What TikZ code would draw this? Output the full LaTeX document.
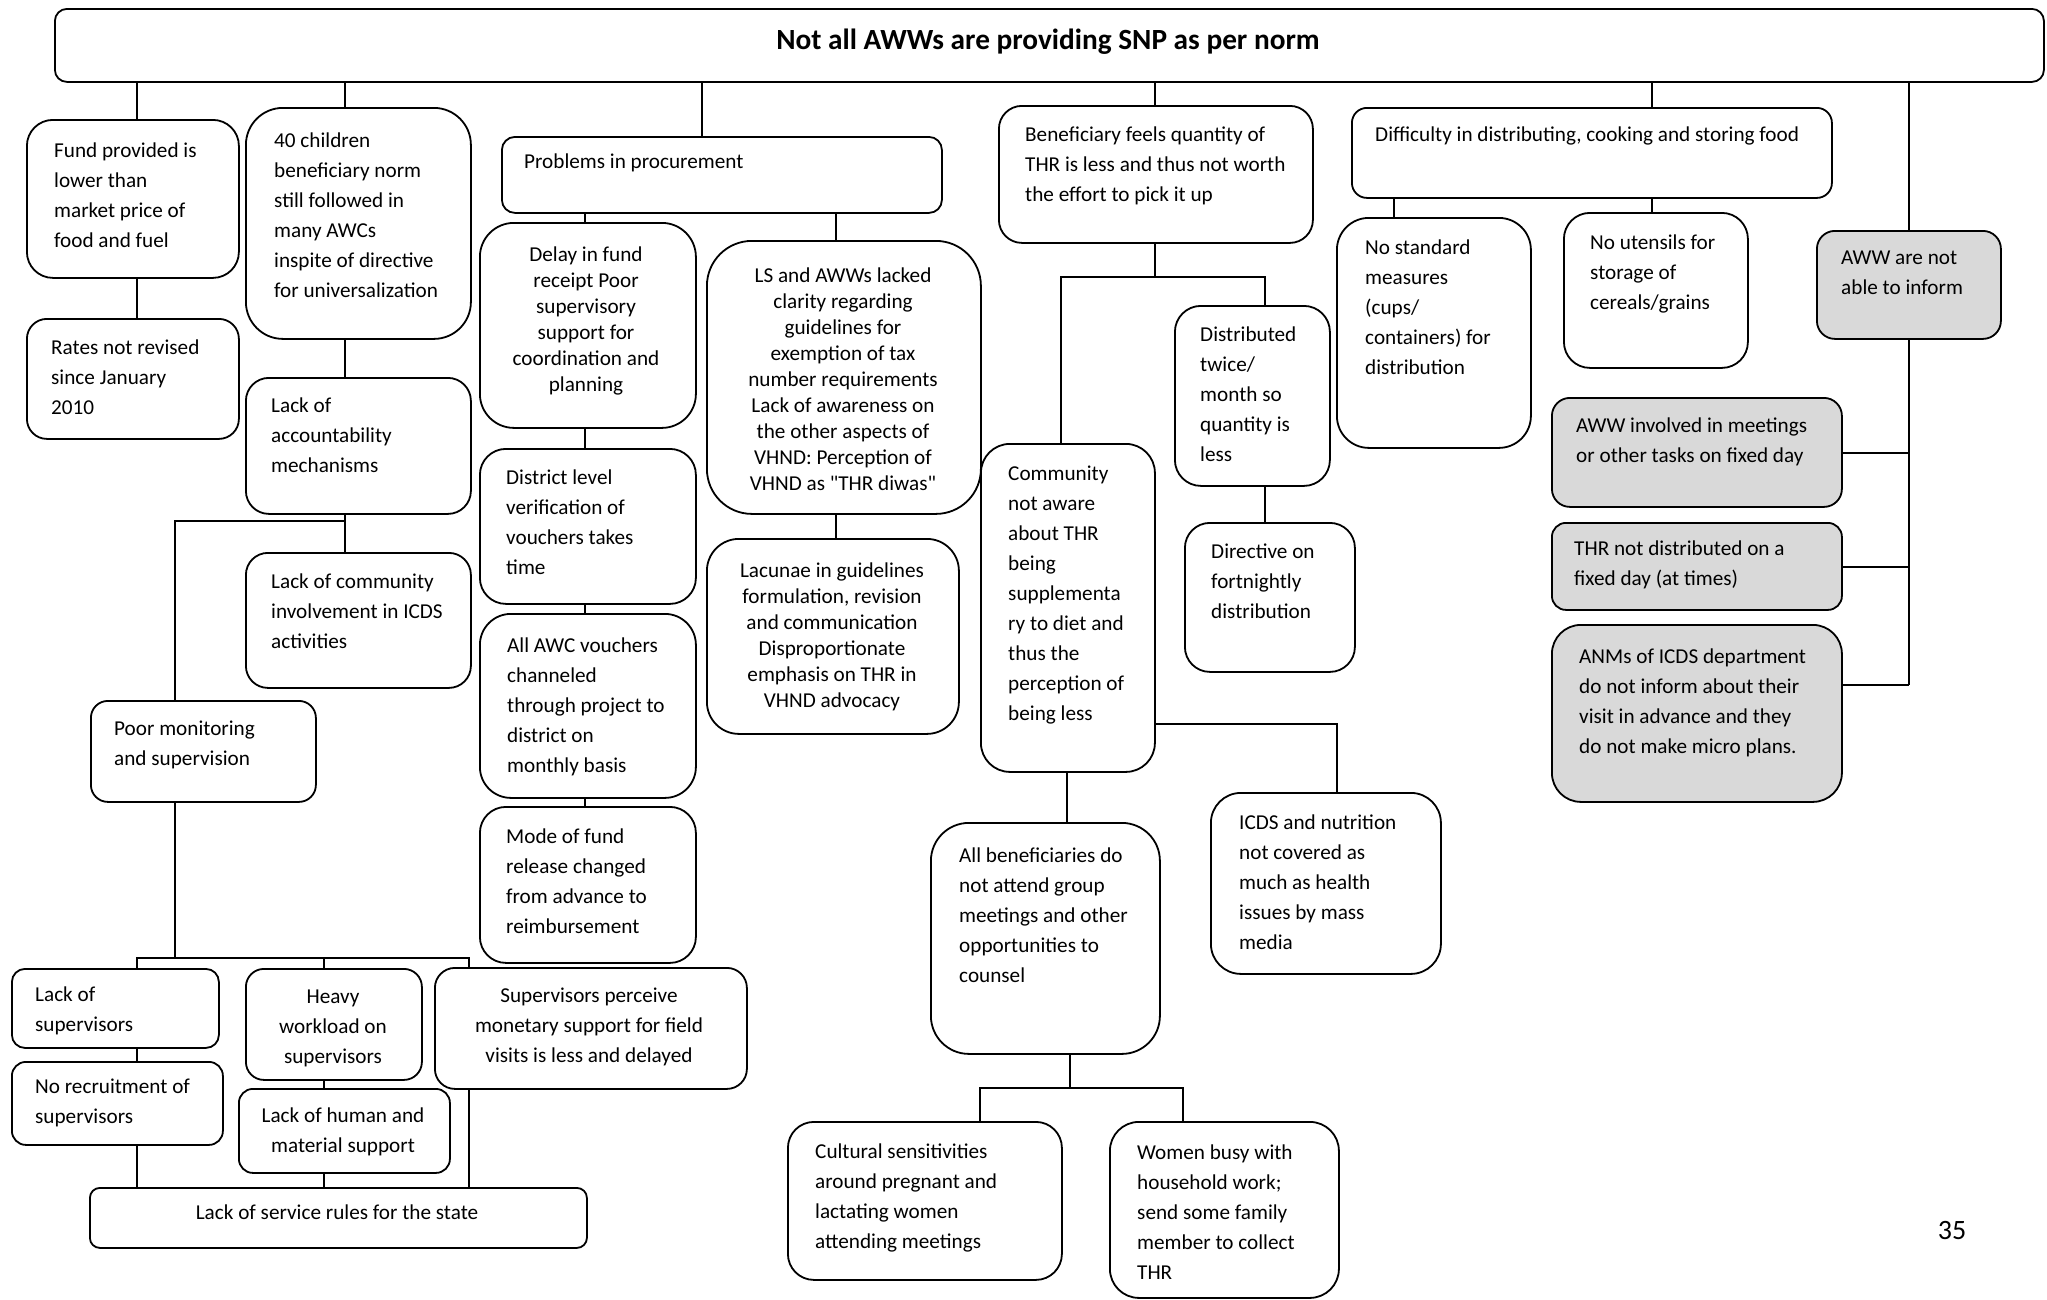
\documentclass[tikz,border=0pt]{standalone}
\usepackage{fontspec}
\setmainfont{Carlito}
\newfontfamily\qfont{Carlito}
\definecolor{boxgray}{HTML}{D9D9D9}
\newcommand\LTxt[1]{\begin{tabular}[t]{@{}l@{}}#1\end{tabular}}
\newcommand\CTxt[1]{\begin{tabular}[t]{@{}c@{}}#1\end{tabular}}
\newcommand\sq{{\qfont\char34\relax}}
% \bx[style]{name}{x1}{y1}{x2}{y2}{radius}
\newcommand\bx[7][box]{\node[#1, rounded corners=#7pt, minimum width=#5pt-#3pt, minimum height=#6pt-#4pt] (#2) at (#3,#4) {};}
\begin{document}
\begin{tikzpicture}[x=1pt,y=-1pt,
  box/.style={draw, line width=1.8pt, inner sep=0pt, anchor=north west, fill=white},
  graybox/.style={box, fill=boxgray},
  txt/.style={inner sep=0pt, font=\fontsize{21.2}{30}\selectfont},
  ltxt/.style={txt, anchor=base west},
  ctxt/.style={txt, anchor=base},
  ctxtb/.style={inner sep=0pt, anchor=base, font=\fontsize{21.2}{26}\selectfont},
  link/.style={line width=1.8pt}]
\useasboundingbox (0,0) rectangle (2047,1299);

% ---------- boxes ----------
\bx{top}{54}{8}{2043}{81}{12}
\bx{fund}{26}{119}{238}{277}{26}
\bx{rates}{26}{318}{238}{438}{20}
\bx{c40}{245}{107}{470}{338}{37}
\bx{lacc}{245}{377}{470}{513}{23}
\bx{lcomm}{245}{552}{470}{687}{22}
\bx{poor}{90}{700}{315}{801}{17}
\bx{lsup}{11}{968}{218}{1047}{13}
\bx{norec}{11}{1061}{222}{1144}{14}
\bx{heavy}{245}{968}{421}{1079}{18}
\bx{lhum}{238}{1088}{449}{1172}{14}
\bx{sperc}{434}{967}{746}{1088}{20}
\bx{lserv}{89}{1187}{586}{1247}{10}
\bx{probs}{501}{136}{941}{212}{13}
\bx{delay}{479}{222}{695}{427}{34}
\bx{dist}{479}{448}{695}{603}{26}
\bx{allawc}{479}{613}{695}{797}{31}
\bx{mode}{479}{806}{695}{962}{26}
\bx{ls}{706}{240}{980}{513}{45}
\bx{lacun}{706}{538}{958}{733}{32}
\bx{benef}{998}{105}{1312}{242}{23}
\bx{comm}{980}{443}{1154}{771}{29}
\bx{distr}{1174}{305}{1329}{485}{26}
\bx{direc}{1184}{522}{1354}{671}{25}
\bx{allben}{930}{822}{1159}{1053}{38}
\bx{icds}{1210}{792}{1440}{973}{30}
\bx{cult}{787}{1121}{1061}{1279}{26}
\bx{women}{1109}{1121}{1338}{1297}{29}
\bx{diff}{1351}{107}{1831}{197}{15}
\bx{nostd}{1336}{217}{1530}{447}{32}
\bx{nouten}{1563}{212}{1747}{367}{26}
\bx[graybox]{awwna}{1816}{230}{2000}{338}{18}
\bx[graybox]{awwinv}{1551}{397}{1841}{506}{18}
\bx[graybox]{thr}{1551}{522}{1841}{609}{14}
\bx[graybox]{anms}{1551}{624}{1841}{801}{29}

% ---------- texts ----------
\node[inner sep=0pt, anchor=base, font=\fontsize{29.3}{35}\selectfont\bfseries] (t-top) at (1048,49) {Not all AWWs are providing SNP as per norm};
\node[ltxt] (t-fund) at (54,157) {\LTxt{Fund provided is\\lower than\\market price of\\food and fuel}};
\node[ltxt] (t-rates) at (51,354) {\LTxt{Rates not revised\\since January\\2010}};
\node[ltxt] (t-c40) at (274,147) {\LTxt{40 children\\beneficiary norm\\still followed in\\many AWCs\\inspite of directive\\for universalization}};
\node[ltxt] (t-lacc) at (271,412) {\LTxt{Lack of\\accountability\\mechanisms}};
\node[ltxt] (t-lcomm) at (271,588) {\LTxt{Lack of community\\involvement in ICDS\\activities}};
\node[ltxt] (t-poor) at (114,735) {\LTxt{Poor monitoring\\and supervision}};
\node[ltxt] (t-lsup) at (35,1001) {\LTxt{Lack of\\supervisors}};
\node[ltxt] (t-norec) at (35,1093) {\LTxt{No recruitment of\\supervisors}};
\node[ctxt] (t-heavy) at (333,1003) {\CTxt{Heavy\\workload on\\supervisors}};
\node[ctxt] (t-lhum) at (343,1122) {\CTxt{Lack of human and\\material support}};
\node[ctxt] (t-sperc) at (589,1002) {\CTxt{Supervisors perceive\\monetary support for field\\visits is less and delayed}};
\node[ctxt] (t-lserv) at (337,1219) {Lack of service rules for the state};
\node[ltxt] (t-probs) at (524,168) {Problems in procurement};
\node[ctxtb] (t-delay) at (586,261) {\CTxt{Delay in fund\\receipt Poor\\supervisory\\support for\\coordination and\\planning}};
\node[ltxt] (t-dist) at (506,484) {\LTxt{District level\\verification of\\vouchers takes\\time}};
\node[ltxt] (t-allawc) at (507,652) {\LTxt{All AWC vouchers\\channeled\\through project to\\district on\\monthly basis}};
\node[ltxt] (t-mode) at (506,843) {\LTxt{Mode of fund\\release changed\\from advance to\\reimbursement}};
\node[ctxtb] (t-ls) at (843,282) {\CTxt{LS and AWWs lacked\\clarity regarding\\guidelines for\\exemption of tax\\number requirements\\Lack of awareness on\\the other aspects of\\VHND: Perception of\\VHND as \sq THR diwas\sq}};
\node[ctxtb] (t-lacun) at (832,577) {\CTxt{Lacunae in guidelines\\formulation, revision\\and communication\\Disproportionate\\emphasis on THR in\\VHND advocacy}};
\node[ltxt] (t-benef) at (1025,141) {\LTxt{Beneficiary feels quantity of\\THR is less and thus not worth\\the effort to pick it up}};
\node[ltxt] (t-comm) at (1008,480) {\LTxt{Community\\not aware\\about THR\\being\\supplementa\\ry to diet and\\thus the\\perception of\\being less}};
\node[ltxt] (t-distr) at (1200,341) {\LTxt{Distributed\\twice/\\month so\\quantity is\\less}};
\node[ltxt] (t-direc) at (1211,558) {\LTxt{Directive on\\fortnightly\\distribution}};
\node[ltxt] (t-allben) at (959,862) {\LTxt{All beneficiaries do\\not attend group\\meetings and other\\opportunities to\\counsel}};
\node[ltxt] (t-icds) at (1239,829) {\LTxt{ICDS and nutrition\\not covered as\\much as health\\issues by mass\\media}};
\node[ltxt] (t-cult) at (815,1158) {\LTxt{Cultural sensitivities\\around pregnant and\\lactating women\\attending meetings}};
\node[ltxt] (t-women) at (1137,1159) {\LTxt{Women busy with\\household work;\\send some family\\member to collect\\THR}};
\node[ltxt] (t-diff) at (1375,141) {Difficulty in distributing, cooking and storing food};
\node[ltxt] (t-nostd) at (1365,254) {\LTxt{No standard\\measures\\(cups/\\containers) for\\distribution}};
\node[ltxt] (t-nouten) at (1590,249) {\LTxt{No utensils for\\storage of\\cereals/grains}};
\node[ltxt] (t-awwna) at (1841,264) {\LTxt{AWW are not\\able to inform}};
\node[ltxt] (t-awwinv) at (1576,432) {\LTxt{AWW involved in meetings\\or other tasks on fixed day}};
\node[ltxt] (t-thr) at (1574,555) {\LTxt{THR not distributed on a\\fixed day (at times)}};
\node[ltxt] (t-anms) at (1579,663) {\LTxt{ANMs of ICDS department\\do not inform about their\\visit in advance and they\\do not make micro plans.}};
\node[inner sep=0pt, anchor=base, font=\fontsize{28}{34}\selectfont] (pagenum) at (1952,1239) {35};

% ---------- helper coordinates ----------
\foreach \xv in {137,175,324,345,469,585,702,836,980,1061,1067,1070,1155,1183,1265,1337,1394,1652,1909}
  {\coordinate (x\xv) at (\xv,0);}
\foreach \yv in {277,453,521,567,685,724,958,1088}
  {\coordinate (y\yv) at (0,\yv);}

% ---------- connectors ----------
\begin{scope}[link]
\draw (x137 |- top.south) -- (x137 |- fund.north);
\draw (x137 |- fund.south) -- (x137 |- rates.north);
\draw (x345 |- top.south) -- (x345 |- c40.north);
\draw (x345 |- c40.south) -- (x345 |- lacc.north);
\draw (x345 |- lacc.south) -- (x345 |- lcomm.north);
\draw (x345 |- y521) -- (x175 |- y521) -- (x175 |- poor.north);
\draw (x175 |- poor.south) -- (x175 |- y958);
\draw (x137 |- lsup.north) -- (x137 |- y958) -- (x469 |- y958) -- (x469 |- sperc.north);
\draw (x324 |- y958) -- (x324 |- heavy.north);
\draw (x137 |- lsup.south) -- (x137 |- norec.north);
\draw (x137 |- norec.south) -- (x137 |- lserv.north);
\draw (x324 |- heavy.south) -- (x324 |- lhum.north);
\draw (x324 |- lhum.south) -- (x324 |- lserv.north);
\draw (x469 |- sperc.south) -- (x469 |- lserv.north);
\draw (x702 |- top.south) -- (x702 |- probs.north);
\draw (x585 |- probs.south) -- (x585 |- delay.north);
\draw (x585 |- delay.south) -- (x585 |- dist.north);
\draw (x585 |- dist.south) -- (x585 |- allawc.north);
\draw (x585 |- allawc.south) -- (x585 |- mode.north);
\draw (x836 |- probs.south) -- (x836 |- ls.north);
\draw (x836 |- ls.south) -- (x836 |- lacun.north);
\draw (x1155 |- top.south) -- (x1155 |- benef.north);
\draw (x1155 |- benef.south) -- (x1155 |- y277);
\draw (x1061 |- comm.north) -- (x1061 |- y277) -- (x1265 |- y277) -- (x1265 |- distr.north);
\draw (x1265 |- distr.south) -- (x1265 |- direc.north);
\draw (x1067 |- comm.south) -- (x1067 |- allben.north);
\draw (comm.east |- y724) -- (x1337 |- y724) -- (x1337 |- icds.north);
\draw (x1070 |- allben.south) -- (x1070 |- y1088);
\draw (x980 |- cult.north) -- (x980 |- y1088) -- (x1183 |- y1088) -- (x1183 |- women.north);
\draw (x1652 |- top.south) -- (x1652 |- diff.north);
\draw (x1394 |- diff.south) -- (x1394 |- nostd.north);
\draw (x1652 |- diff.south) -- (x1652 |- nouten.north);
\draw (x1909 |- top.south) -- (x1909 |- awwna.north);
\draw (x1909 |- awwna.south) -- (x1909 |- y685);
\draw (awwinv.east |- y453) -- (x1909 |- y453);
\draw (thr.east |- y567) -- (x1909 |- y567);
\draw (anms.east |- y685) -- (x1909 |- y685);
\end{scope}
\end{tikzpicture}
\end{document}
